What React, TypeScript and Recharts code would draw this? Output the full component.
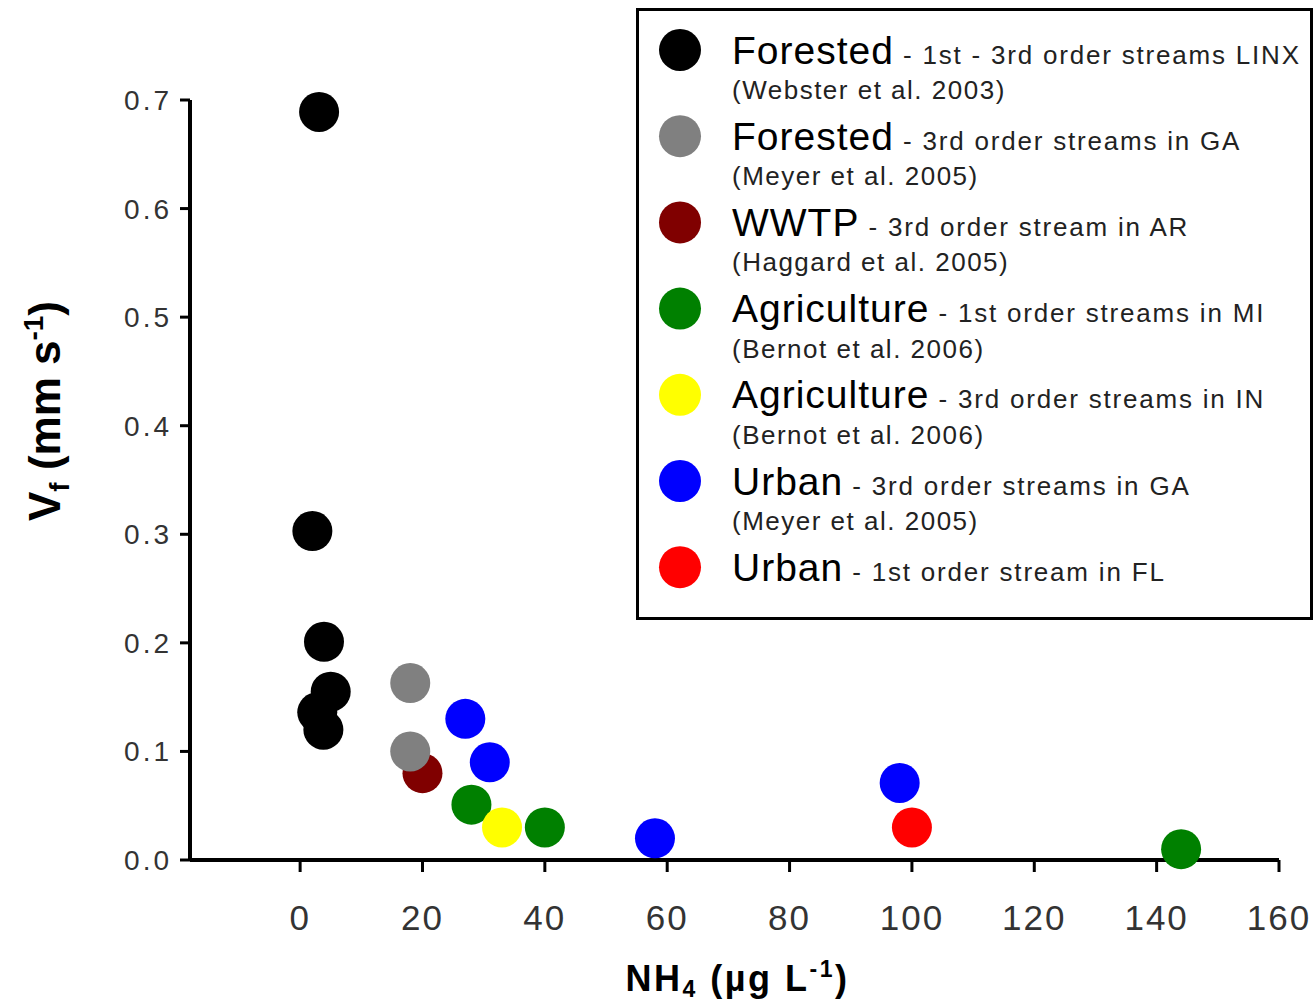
import React from "react";
import { ScatterChart, Scatter, XAxis, YAxis, Legend, Label } from "recharts";

// NH4 (ug/L) vs uptake velocity Vf (mm/s)
const forestedLinx = [
  { x: 3.1, y: 0.689 },
  { x: 2.0, y: 0.303 },
  { x: 3.9, y: 0.201 },
  { x: 5.0, y: 0.155 },
  { x: 2.8, y: 0.136 },
  { x: 3.8, y: 0.12 },
];
const forestedGA = [
  { x: 18, y: 0.163 },
  { x: 18, y: 0.1 },
];
const wwtpAR = [{ x: 20, y: 0.08 }];
const agricultureMI = [
  { x: 28, y: 0.051 },
  { x: 40, y: 0.03 },
  { x: 144, y: 0.01 },
];
const agricultureIN = [{ x: 33, y: 0.03 }];
const urbanGA = [
  { x: 27, y: 0.13 },
  { x: 31, y: 0.09 },
  { x: 58, y: 0.02 },
  { x: 98, y: 0.071 },
];
const urbanFL = [{ x: 100, y: 0.03 }];

const xTicks = [0, 20, 40, 60, 80, 100, 120, 140, 160];
const yTicks = [0, 0.1, 0.2, 0.3, 0.4, 0.5, 0.6, 0.7];

const legendNames = ["Forested", "Forested", "WWTP", "Agriculture", "Agriculture", "Urban", "Urban"];
const legendNotes = [
  " - 1st - 3rd order streams LINX",
  " - 3rd order streams in GA",
  " - 3rd order stream in AR",
  " - 1st order streams in MI",
  " - 3rd order streams in IN",
  " - 3rd order streams in GA",
  " - 1st order stream in FL",
];
const legendRefs = [
  "(Webster et al. 2003)",
  "(Meyer et al. 2005)",
  "(Haggard et al. 2005)",
  "(Bernot et al. 2006)",
  "(Bernot et al. 2006)",
  "(Meyer et al. 2005)",
  "",
];
const legendColors = ["#000000", "#808080", "#800000", "#008000", "#ffff00", "#0000ff", "#ff0000"];

const FONT = "'Liberation Sans', Arial, sans-serif";

const dot = (color: string) => (props: any) => (
  <circle cx={props.cx} cy={props.cy} r={20} fill={color} />
);

function LegendBox() {
  return (
    <svg width={677} height={612} style={{ display: "block" }}>
      <rect x={1.5} y={1.5} width={674} height={609} fill="#fff" stroke="#000" strokeWidth={3} />
      {legendNames.map((name, i) => {
        const cy = 42 + i * 86.2;
        return (
          <g key={i}>
            <circle cx={44} cy={cy} r={21} fill={legendColors[i]} />
            <text x={96} y={cy + 13.5} fontFamily={FONT} fill="#000">
              <tspan fontSize={39} letterSpacing={1}>{name}</tspan>
              <tspan fontSize={26} letterSpacing={1.8} fill="#222">{legendNotes[i]}</tspan>
            </text>
            {legendRefs[i] && (
              <text x={96} y={cy + 49} fontFamily={FONT} fontSize={26} letterSpacing={1.5} fill="#222">
                {legendRefs[i]}
              </text>
            )}
          </g>
        );
      })}
    </svg>
  );
}

const XTitle = (props: any) => {
  const { x, y, width } = props.viewBox;
  return (
    <text x={x + width / 2 + 3} y={y + 131} textAnchor="middle" fontFamily={FONT} fontWeight="bold" fontSize={36} letterSpacing={2.5} fill="#000">
      NH
      <tspan fontSize={23} dy={6}>4</tspan>
      <tspan dy={-6}> (µg L</tspan>
      <tspan fontSize={23} dy={-14}>-1</tspan>
      <tspan dy={14}>)</tspan>
    </text>
  );
};

const YTitle = (props: any) => {
  const { x, y } = props.viewBox;
  const cx = x - 70;
  const cy = y + 311;
  return (
    <text
      x={cx}
      y={cy}
      textAnchor="middle"
      transform={`rotate(-90 ${cx} ${cy})`}
      fontFamily={FONT}
      fontWeight="bold"
      fontSize={44}
      fill="#000"
    >
      V
      <tspan fontSize={28} dy={9}>f</tspan>
      <tspan dy={-9}> (mm s</tspan>
      <tspan fontSize={28} dy={-17}>-1</tspan>
      <tspan dy={17}>)</tspan>
    </text>
  );
};

export default function App() {
  return (
    <div style={{ position: "absolute", left: 0, top: 0, background: "#fff" }}>
      <ScatterChart width={1316} height={1003} margin={{ top: 100, right: 37, bottom: 83, left: 130 }}>
        <XAxis
          type="number"
          dataKey="x"
          domain={[-18, 160]}
          ticks={xTicks}
          interval={0}
          height={60}
          axisLine={{ stroke: "#000", strokeWidth: 4 }}
          tickLine={{ stroke: "#000", strokeWidth: 3 }}
          tickSize={12}
          tickMargin={33}
          tick={{ fill: "#333", fontSize: 35, fontFamily: FONT, letterSpacing: 2 }}
        >
          <Label content={<XTitle />} />
        </XAxis>
        <YAxis
          type="number"
          dataKey="y"
          domain={[0, 0.7]}
          ticks={yTicks}
          interval={0}
          width={60}
          axisLine={{ stroke: "#000", strokeWidth: 4 }}
          tickLine={{ stroke: "#000", strokeWidth: 3 }}
          tickSize={10}
          tickMargin={8}
          tickFormatter={(v: number) => v.toFixed(1)}
          tick={{ fill: "#333", fontSize: 28, fontFamily: FONT, letterSpacing: 3 }}
        >
          <Label content={<YTitle />} />
        </YAxis>
        <Legend
          layout="horizontal"
          verticalAlign="middle"
          align="center"
          content={() => <LegendBox />}
          wrapperStyle={{ left: 636, top: 8, width: 677, height: 612 }}
        />
        <Scatter name="Forested LINX" data={forestedLinx} fill="#000000" shape={dot("#000000")} isAnimationActive={false} />
        <Scatter name="WWTP AR" data={wwtpAR} fill="#800000" shape={dot("#800000")} isAnimationActive={false} />
        <Scatter name="Forested GA" data={forestedGA} fill="#808080" shape={dot("#808080")} isAnimationActive={false} />
        <Scatter name="Agriculture MI" data={agricultureMI} fill="#008000" shape={dot("#008000")} isAnimationActive={false} />
        <Scatter name="Agriculture IN" data={agricultureIN} fill="#ffff00" shape={dot("#ffff00")} isAnimationActive={false} />
        <Scatter name="Urban GA" data={urbanGA} fill="#0000ff" shape={dot("#0000ff")} isAnimationActive={false} />
        <Scatter name="Urban FL" data={urbanFL} fill="#ff0000" shape={dot("#ff0000")} isAnimationActive={false} />
      </ScatterChart>
    </div>
  );
}
